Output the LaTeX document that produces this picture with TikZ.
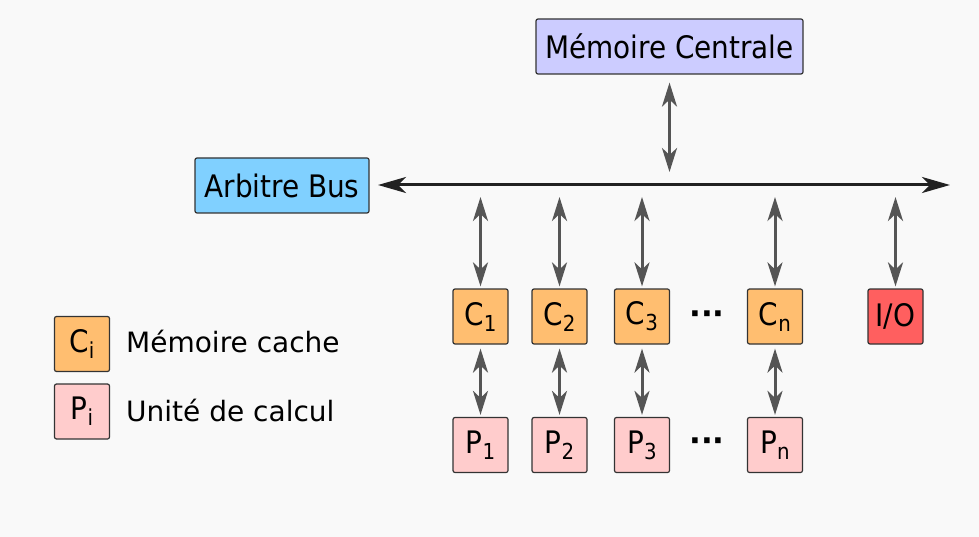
\documentclass[tikz,border=0pt]{standalone}
\usepackage{fontspec}
\setmainfont{DejaVu Sans}
\newfontfamily\boxfont{DejaVu Sans Condensed}
\newfontfamily\dotfont{DejaVu Sans}
\usetikzlibrary{arrows.meta}
\definecolor{bgc}{RGB}{249,249,249}
\definecolor{memc}{RGB}{204,204,255}
\definecolor{arbc}{RGB}{128,208,255}
\definecolor{cachec}{RGB}{255,190,112}
\definecolor{procc}{RGB}{255,204,204}
\definecolor{ioc}{RGB}{255,95,95}
\definecolor{edgec}{RGB}{51,51,51}
\definecolor{arrc}{RGB}{85,85,85}
\definecolor{busc}{RGB}{34,34,34}
\newcommand\subx[1]{\raisebox{-6pt}{\fontsize{22}{22}\selectfont #1}}
\tikzset{
  x=1pt, y=-1pt,
  boxst/.style={draw=edgec, line width=1.2pt, rounded corners=2pt, inner sep=0pt,
    font=\boxfont\fontsize{31}{31}\selectfont, text=black},
  sq/.style={boxst, minimum width=55pt, minimum height=55pt},
  cache/.style={sq, fill=cachec},
  proc/.style={sq, fill=procc},
  dbl/.style={draw=arrc, line width=3pt,
    {Stealth[length=24pt,width=15pt,inset=7pt]}-{Stealth[length=24pt,width=15pt,inset=7pt]}},
  busline/.style={draw=busc, line width=3pt,
    {Stealth[length=28pt,width=16pt,inset=8pt]}-{Stealth[length=28pt,width=16pt,inset=8pt]}},
  dots/.style={font=\dotfont\bfseries\fontsize{31}{31}\selectfont, inner sep=0pt},
  legtext/.style={font=\fontsize{28}{28}\selectfont, inner sep=0pt, anchor=base west}
}
\begin{document}
\begin{tikzpicture}
\fill[bgc] (0,0) rectangle (979,537);
\useasboundingbox (0,0) rectangle (979,537);

\node[boxst, fill=memc, minimum width=267pt, minimum height=55pt] (mem) at (669.5,46.5) {Mémoire Centrale};
\node[boxst, fill=arbc, minimum width=174pt, minimum height=55pt] (arb) at (282,185.5) {Arbitre Bus};

\coordinate (busL) at (378,185);
\coordinate (busR) at (950,185);
\path[busline] (busL) -- (busR);

\node[cache] (c1) at (480.5,316.5) {C\subx{1}};
\node[cache] (c2) at (559.5,316.5) {C\subx{2}};
\node[cache] (c3) at (642,316.5) {C\subx{3}};
\node[cache] (cn) at (775,316.5) {C\subx{n}};
\node[sq, fill=ioc] (io) at (895.5,316.5) {I/O};

\node[proc] (p1) at (480.5,445) {P\subx{1}};
\node[proc] (p2) at (559.5,445) {P\subx{2}};
\node[proc] (p3) at (642,445) {P\subx{3}};
\node[proc] (pn) at (775,445) {P\subx{n}};

\node[dots] (dc) at (707,318) {···};
\node[dots] (dp) at (707,445) {···};

\coordinate (memB) at (669.5,172);
\path[dbl, shorten <=8pt] (mem.south) -- (memB);

\foreach \n in {c1,c2,c3,cn,io}{
  \path[dbl, shorten <=12pt, shorten >=2pt] (\n.north |- busL) -- (\n.north);
}
\foreach \a/\b in {c1/p1,c2/p2,c3/p3,cn/pn}{
  \path[dbl, shorten <=4pt, shorten >=2pt] (\a.south) -- (\b.north);
}

\node[cache] (lc) at (82,344) {C\subx{i}};
\node[proc] (lp) at (82,411.5) {P\subx{i}};
\node[legtext] (lct) at (126,352) {Mémoire cache};
\node[legtext] (lpt) at (126,421) {Unité de calcul};
\end{tikzpicture}
\end{document}
